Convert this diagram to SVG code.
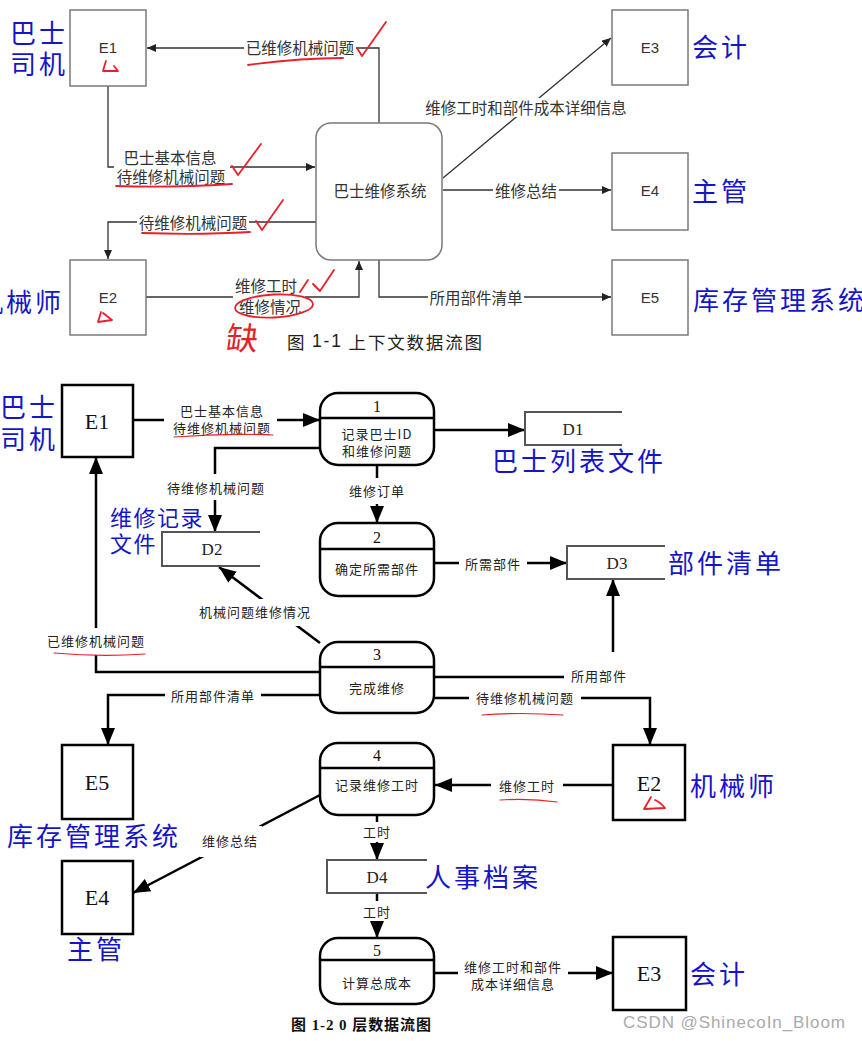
<svg xmlns="http://www.w3.org/2000/svg" width="862" height="1041" viewBox="0 0 862 1041">
<style>
.tbox{fill:#fff;stroke:#7a7a7a;stroke-width:1.5}
.tl{fill:none;stroke:#333;stroke-width:1.3}
.tt{font-family:"Noto Sans CJK SC","Liberation Sans",sans-serif;font-size:15.5px;fill:#333;text-anchor:middle;dominant-baseline:central}
.te{font-family:"Liberation Sans",sans-serif;font-size:15px;fill:#333;text-anchor:middle;dominant-baseline:central}
.blue{font-family:"Noto Sans CJK SC",sans-serif;font-size:26px;fill:#1515c8;letter-spacing:3px;dominant-baseline:central}
.bbox{fill:#fff;stroke:#000;stroke-width:2.5}
.bl{fill:none;stroke:#000;stroke-width:2.5}
.bt{font-family:"Noto Sans CJK SC",sans-serif;font-size:13px;fill:#222;letter-spacing:1px;text-anchor:middle;dominant-baseline:central}
.be{font-family:"Liberation Serif",serif;font-size:22px;fill:#111;text-anchor:middle;dominant-baseline:central}
.num{font-family:"Liberation Serif",serif;font-size:16px;fill:#111;text-anchor:middle;dominant-baseline:central}
.ds{fill:none;stroke:#555;stroke-width:2}
.dt{font-family:"Liberation Serif",serif;font-size:17px;fill:#222;text-anchor:middle;dominant-baseline:central}
.bg{fill:#fff}
.red{fill:none;stroke:#e8202a;stroke-width:1.8;stroke-linecap:round;stroke-linejoin:round}
.redt{fill:none;stroke:#e8202a;stroke-width:1.2;stroke-linecap:round}
</style>
<defs>
<marker id="as" markerUnits="userSpaceOnUse" markerWidth="9" markerHeight="8" refX="9" refY="4" orient="auto"><path d="M0,0 L9,4 L0,8 z" fill="#222"/></marker>
<marker id="al" markerUnits="userSpaceOnUse" markerWidth="17" markerHeight="14" refX="17" refY="7" orient="auto"><path d="M0,0 L17,7 L0,14 z" fill="#000"/></marker>
</defs>
<rect width="862" height="1041" fill="#fff"/>

<!-- ===== Top: context diagram ===== -->
<g id="top-connectors">
<path class="tl" d="M379,123 V48 H147" marker-end="url(#as)"/>
<path class="tl" d="M108,86 V167 H315" marker-end="url(#as)"/>
<path class="tl" d="M316,222 H108 V259" marker-end="url(#as)"/>
<path class="tl" d="M146,297 H359 V261" marker-end="url(#as)"/>
<path class="tl" d="M443,178 L611,38" marker-end="url(#as)"/>
<path class="tl" d="M443,190 H611" marker-end="url(#as)"/>
<path class="tl" d="M379,260 V297 H611" marker-end="url(#as)"/>
<rect class="bg" x="244" y="38" width="112" height="19"/>
<text class="tt" x="300" y="47">已维修机械问题</text>
<rect class="bg" x="114" y="147" width="116" height="39"/>
<text class="tt" x="170" y="157">巴士基本信息</text>
<text class="tt" x="171" y="176">待维修机械问题</text>
<rect class="bg" x="137" y="213" width="112" height="19"/>
<text class="tt" x="193" y="222">待维修机械问题</text>
<rect class="bg" x="233" y="276" width="72" height="40"/>
<text class="tt" x="266" y="285">维修工时</text>
<text class="tt" x="270" y="306">维修情况</text>
<rect class="bg" x="422" y="98" width="208" height="19"/>
<text class="tt" x="526" y="107">维修工时和部件成本详细信息</text>
<rect class="bg" x="493" y="181" width="66" height="19"/>
<text class="tt" x="526" y="190">维修总结</text>
<rect class="bg" x="428" y="288" width="96" height="19"/>
<text class="tt" x="476" y="297">所用部件清单</text>
</g>

<g id="t-E1"><rect class="tbox" x="70" y="10" width="76" height="76"/><text class="te" x="108" y="47">E1</text></g>
<g id="t-E2"><rect class="tbox" x="70" y="260" width="76" height="75"/><text class="te" x="108" y="297">E2</text></g>
<g id="t-E3"><rect class="tbox" x="612" y="10" width="76" height="75"/><text class="te" x="650" y="47">E3</text></g>
<g id="t-E4"><rect class="tbox" x="612" y="153" width="76" height="77"/><text class="te" x="650" y="190">E4</text></g>
<g id="t-E5"><rect class="tbox" x="612" y="260" width="76" height="75"/><text class="te" x="650" y="297">E5</text></g>
<g id="t-sys"><rect class="tbox" x="316" y="123" width="126" height="137" rx="15"/><text class="tt" x="380" y="190">巴士维修系统</text></g>

<g id="top-blue-labels">
<text class="blue" x="10" y="31">巴士</text>
<text class="blue" x="10" y="62">司机</text>
<text class="blue" x="-23" y="300">机械师</text>
<text class="blue" x="692" y="45">会计</text>
<text class="blue" x="692" y="189">主管</text>
<text class="blue" x="693" y="298">库存管理系统</text>
</g>

<text x="287" y="341" textLength="195" style="font-family:'Noto Sans CJK SC',sans-serif;font-size:17.5px;fill:#222;dominant-baseline:central">图 <tspan font-family="Liberation Sans">1-1</tspan> 上下文数据流图</text>

<g id="top-red-marks">
<path class="red" d="M106,61 Q104,67 103,71 L118,71 L114,66"/>
<path class="red" d="M248,65 Q300,58 343,58"/>
<path class="red" d="M357,48 L362,56 L386,22"/>
<path class="red" d="M116,186 Q170,188 232,184"/>
<path class="red" d="M232,166 L238,175 L261,144"/>
<path class="red" d="M142,233 Q200,235 250,232"/>
<path class="red" d="M256,221 L262,230 L283,200"/>
<path class="red" d="M300,292 L308,280"/>
<path class="red" d="M313,284 L320,291 L334,270"/>
<ellipse class="red" cx="274" cy="306" rx="39" ry="11.5" transform="rotate(-3 274 306)"/>
<path class="red" d="M101,312 L98,322 L112,320 L103,313"/>
<text x="243" y="336" style="font-family:'Noto Sans CJK SC',sans-serif;font-size:32px;fill:#e8202a;text-anchor:middle;dominant-baseline:central" transform="skewX(-8) translate(47 0)">缺</text>
</g>

<!-- ===== Bottom: level-0 DFD ===== -->
<g id="bottom-connectors">
<path class="bl" d="M133,420 H320" marker-end="url(#al)"/>
<path class="bl" d="M435,430 H525" marker-end="url(#al)"/>
<path class="bl" d="M320,448 H215 V532" marker-end="url(#al)"/>
<path class="bl" d="M377,466 V523" marker-end="url(#al)"/>
<path class="bl" d="M435,563 H567" marker-end="url(#al)"/>
<path class="bl" d="M320,643 L219,567" marker-end="url(#al)"/>
<path class="bl" d="M320,672 H96 V457" marker-end="url(#al)"/>
<path class="bl" d="M320,695 H108 V745" marker-end="url(#al)"/>
<path class="bl" d="M435,677 H613 V579" marker-end="url(#al)"/>
<path class="bl" d="M435,698 H650 V745" marker-end="url(#al)"/>
<path class="bl" d="M613,785 H435" marker-end="url(#al)"/>
<path class="bl" d="M320,795 L133,893" marker-end="url(#al)"/>
<path class="bl" d="M377,815 V860" marker-end="url(#al)"/>
<path class="bl" d="M377,893 V938" marker-end="url(#al)"/>
<path class="bl" d="M435,973 H613" marker-end="url(#al)"/>

<rect class="bg" x="164" y="400" width="113" height="39"/>
<text class="bt" x="222" y="410">巴士基本信息</text>
<text class="bt" x="222" y="427">待维修机械问题</text>
<rect class="bg" x="165" y="474" width="102" height="26"/>
<text class="bt" x="216" y="487">待维修机械问题</text>
<rect class="bg" x="346" y="478" width="62" height="26"/>
<text class="bt" x="377" y="490">维修订单</text>
<rect class="bg" x="459" y="554" width="68" height="18"/>
<text class="bt" x="493" y="563">所需部件</text>
<rect class="bg" x="196" y="599" width="118" height="27"/>
<text class="bt" x="255" y="611">机械问题维修情况</text>
<rect class="bg" x="45" y="628" width="102" height="27"/>
<text class="bt" x="96" y="640">已维修机械问题</text>
<rect class="bg" x="165" y="686" width="96" height="18"/>
<text class="bt" x="213" y="695">所用部件清单</text>
<rect class="bg" x="564" y="652" width="68" height="33"/>
<text class="bt" x="599" y="675">所用部件</text>
<rect class="bg" x="469" y="689" width="112" height="18"/>
<text class="bt" x="525" y="697">待维修机械问题</text>
<rect class="bg" x="491" y="776" width="72" height="18"/>
<text class="bt" x="527" y="785">维修工时</text>
<rect class="bg" x="200" y="826" width="62" height="31"/>
<text class="bt" x="230" y="840">维修总结</text>
<rect class="bg" x="358" y="822" width="38" height="20"/>
<text class="bt" x="377" y="831">工时</text>
<rect class="bg" x="358" y="901" width="38" height="20"/>
<text class="bt" x="377" y="911">工时</text>
<rect class="bg" x="458" y="956" width="110" height="36"/>
<text class="bt" x="513" y="966">维修工时和部件</text>
<text class="bt" x="513" y="983">成本详细信息</text>
</g>

<g id="b-E1"><rect class="bbox" x="62" y="385" width="71" height="72"/><text class="be" x="97" y="421">E1</text></g>
<g id="b-E2"><rect class="bbox" x="613" y="745" width="72" height="75"/><text class="be" x="649" y="783">E2</text></g>
<g id="b-E3"><rect class="bbox" x="613" y="937" width="73" height="73"/><text class="be" x="649" y="973">E3</text></g>
<g id="b-E4"><rect class="bbox" x="62" y="861" width="71" height="73"/><text class="be" x="97" y="897">E4</text></g>
<g id="b-E5"><rect class="bbox" x="62" y="745" width="71" height="74"/><text class="be" x="97" y="782">E5</text></g>

<g id="p1"><rect class="bbox" x="320" y="393" width="114" height="72" rx="18"/><line class="bl" x1="320" y1="418" x2="434" y2="418"/><text class="num" x="377" y="406">1</text><text class="bt" x="377" y="433">记录巴士ID</text><text class="bt" x="377" y="450">和维修问题</text></g>
<g id="p2"><rect class="bbox" x="320" y="523" width="114" height="73" rx="18"/><line class="bl" x1="320" y1="549" x2="434" y2="549"/><text class="num" x="377" y="537">2</text><text class="bt" x="377" y="568">确定所需部件</text></g>
<g id="p3"><rect class="bbox" x="320" y="642" width="114" height="71" rx="18"/><line class="bl" x1="320" y1="667" x2="434" y2="667"/><text class="num" x="377" y="654">3</text><text class="bt" x="377" y="687">完成维修</text></g>
<g id="p4"><rect class="bbox" x="320" y="743" width="114" height="72" rx="18"/><line class="bl" x1="320" y1="768" x2="434" y2="768"/><text class="num" x="377" y="755">4</text><text class="bt" x="377" y="784">记录维修工时</text></g>
<g id="p5"><rect class="bbox" x="320" y="938" width="114" height="66" rx="18"/><line class="bl" x1="320" y1="960" x2="434" y2="960"/><text class="num" x="377" y="950">5</text><text class="bt" x="377" y="982">计算总成本</text></g>

<g id="D1"><path class="ds" d="M622,412 H525 V445 H622"/><text class="dt" x="573" y="429">D1</text></g>
<g id="D2"><path class="ds" d="M260,532 H162 V566 H260"/><text class="dt" x="212" y="549">D2</text></g>
<g id="D3"><path class="ds" d="M665,546 H567 V579 H665"/><text class="dt" x="617" y="563">D3</text></g>
<g id="D4"><path class="ds" d="M427,860 H327 V893 H427"/><text class="dt" x="377" y="877">D4</text></g>

<g id="bottom-blue-labels">
<text class="blue" x="0" y="405">巴士</text>
<text class="blue" x="0" y="437">司机</text>
<text class="blue" x="492" y="459">巴士列表文件</text>
<text class="blue" x="110" y="516" style="font-size:22px;letter-spacing:1.5px">维修记录</text>
<text class="blue" x="110" y="542" style="font-size:22px;letter-spacing:1.5px">文件</text>
<text class="blue" x="668" y="561">部件清单</text>
<text class="blue" x="690" y="784">机械师</text>
<text class="blue" x="7" y="834">库存管理系统</text>
<text class="blue" x="67" y="947">主管</text>
<text class="blue" x="425" y="875">人事档案</text>
<text class="blue" x="690" y="972">会计</text>
</g>

<g id="bottom-red-marks">
<path class="redt" d="M174,437 Q225,433 273,435"/>
<path class="redt" d="M54,653 Q100,657 145,654"/>
<path class="redt" d="M482,715 Q520,712 563,715"/>
<path class="redt" d="M500,800 Q530,798 557,802"/>
<path class="red" d="M651,797 L644,809 L665,808 Q660,802 655,800"/>
</g>

<text x="361" y="1025" textLength="140" style="font-family:'Liberation Serif','Noto Sans CJK SC',serif;font-size:15px;font-weight:bold;fill:#111;text-anchor:middle;dominant-baseline:central">图 1-2 0 层数据流图</text>
<text x="623" y="1022" textLength="222" style="font-family:'Liberation Sans',sans-serif;font-size:17px;fill:#aaa;dominant-baseline:central">CSDN @ShinecoIn_Bloom</text>
</svg>
